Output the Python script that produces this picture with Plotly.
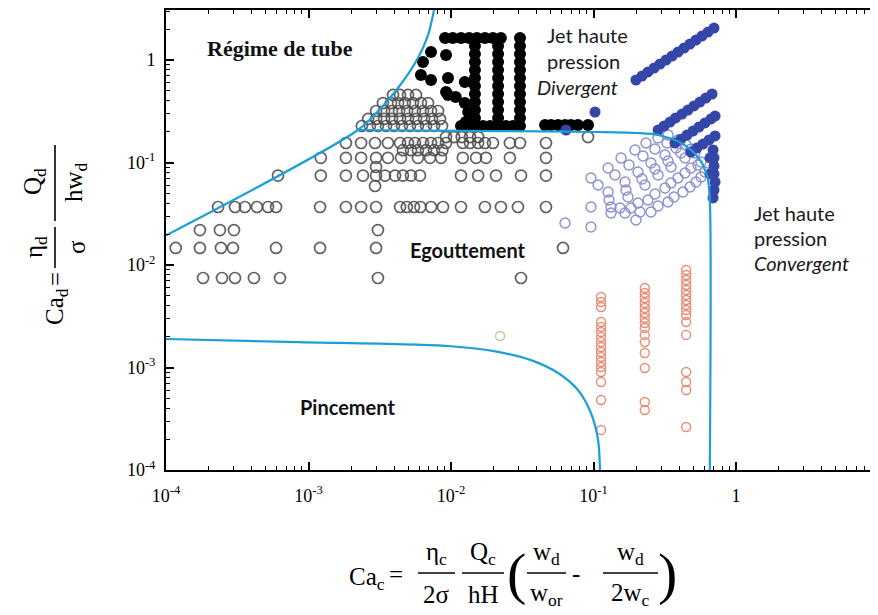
import plotly.graph_objects as go

# ---------------- data ----------------
# dark grey open circles (Egouttement region)
grey_rows_y = [0.155, 0.132, 0.111, 0.0745, 0.0368, 0.0219, 0.01466, 0.00747,
               0.456, 0.380, 0.318, 0.266, 0.227, 0.177]
grey_rows_x = [
    [1.83e-3, 2.34e-3, 2.93e-3, 3.61e-3, 4.39e-3, 4.99e-3, 5.58e-3, 6.36e-3, 7.24e-3, 8.11e-3,
     9.23e-3, 1.21e-2, 1.36e-2, 1.55e-2, 1.73e-2, 1.97e-2, 2.59e-2, 3.05e-2, 4.64e-2],
    [4.6e-3, 5.24e-3, 5.86e-3, 6.68e-3, 7.6e-3, 8.7e-3],
    [1.22e-3, 1.83e-3, 2.34e-3, 2.98e-3, 3.61e-3, 4.46e-3, 5.86e-3, 7.13e-3, 8.51e-3, 1.21e-2,
     1.5e-2, 1.76e-2, 2.59e-2, 4.64e-2],
    [6.11e-4, 1.22e-3, 1.83e-3, 2.41e-3, 2.98e-3, 3.44e-3, 4.05e-3, 4.6e-3, 5.24e-3, 6.06e-3,
     1.175e-2, 1.55e-2, 2.07e-2, 3.1e-2, 4.64e-2],
    [2.32e-4, 3.05e-4, 3.58e-4, 4.35e-4, 5.2e-4, 5.92e-4, 1.205e-3, 1.83e-3, 2.34e-3, 2.98e-3,
     4.39e-3, 4.9e-3, 5.5e-3, 6.1e-3, 7.24e-3, 8.79e-3, 1.175e-2, 1.73e-2, 2.24e-2, 2.95e-2, 4.64e-2],
    [1.73e-4, 2.39e-4, 3.0e-4, 3.07e-3],
    [1.17e-4, 1.73e-4, 2.43e-4, 2.95e-4, 5.92e-4, 1.205e-3, 2.98e-3, 6.11e-2],
    [1.82e-4, 2.47e-4, 3.05e-4, 4.14e-4, 6.31e-4, 3.07e-3, 3.1e-2],
    [3.92e-3, 4.39e-3, 4.99e-3, 5.68e-3],
    [3.33e-3, 3.79e-3, 4.25e-3, 4.75e-3, 5.41e-3, 6.15e-3, 6.9e-3],
    [2.98e-3, 3.39e-3, 3.85e-3, 4.32e-3, 4.92e-3, 5.58e-3, 6.36e-3, 7.24e-3, 8.11e-3],
    [2.62e-3, 2.98e-3, 3.39e-3, 3.85e-3, 4.39e-3, 4.99e-3, 5.68e-3, 6.47e-3, 7.36e-3, 8.37e-3],
    [2.37e-3, 2.7e-3, 3.07e-3, 3.5e-3, 3.98e-3, 4.53e-3, 5.15e-3, 5.86e-3, 6.68e-3, 7.6e-3, 8.65e-3],
    [9.23e-3, 1.05e-2, 1.19e-2, 1.36e-2, 1.55e-2, 9.15e-2],
]
grey_extra_x = [2.98e-3, 2.93e-3]
grey_extra_y = [0.0904, 0.059]

# black filled circles
black_col_x = [0.01472, 0.0214, 0.0305]
black_col_y = [1.369, 1.144, 0.956, 0.799, 0.667, 0.557, 0.466, 0.389, 0.325, 0.272, 0.227]
black_top_x = [9.08e-3, 1.03e-2, 1.175e-2, 1.34e-2, 1.52e-2, 1.73e-2, 1.97e-2, 2.24e-2, 0.0305]
black_top_y = 1.639
black_bottom_x = [1.175e-2, 1.32e-2, 1.68e-2, 1.88e-2, 2.43e-2, 2.72e-2]
black_bottom_y = 0.227
black_shape_x = [7.24e-3, 6.36e-3, 9.23e-3, 6.15e-3, 7.24e-3, 9.53e-3, 1.25e-2, 9.23e-3, 9.53e-3,
                 1.08e-2, 1.25e-2, 1.32e-2, 1.27e-2]
black_shape_y = [1.197, 0.956, 1.119, 0.714, 0.638, 0.667, 0.610, 0.487, 0.456, 0.436, 0.380,
                 0.311, 0.248]
black_right_x = [0.0457, 0.0504, 0.0564, 0.0631, 0.0695, 0.0778, 0.0915]
black_right_y = 0.232

# blue filled circles (divergent jet)
blue_x = [0.0641, 0.1025,
          0.1986, 0.219, 0.241, 0.266, 0.293, 0.323, 0.356, 0.392, 0.432, 0.475, 0.524, 0.577, 0.636, 0.701,
          0.284, 0.313, 0.344, 0.377, 0.418, 0.460, 0.507, 0.558, 0.615, 0.679,
          0.373, 0.411, 0.453, 0.499, 0.550, 0.606, 0.668, 0.713,
          0.483, 0.532, 0.586, 0.647, 0.713,
          0.690, 0.701, 0.701, 0.701, 0.713, 0.701, 0.690, 0.657, 0.657]
blue_y = [0.2075, 0.311,
          0.638, 0.698, 0.764, 0.835, 0.914, 1.0, 1.094, 1.197, 1.309, 1.432, 1.567, 1.714, 1.875, 2.051,
          0.2075, 0.227, 0.248, 0.272, 0.297, 0.325, 0.356, 0.389, 0.426, 0.466,
          0.155, 0.169, 0.1855, 0.2027, 0.222, 0.243, 0.266, 0.284,
          0.1265, 0.1384, 0.1514, 0.166, 0.1815,
          0.1324, 0.111, 0.0925, 0.0773, 0.0645, 0.0539, 0.0451, 0.111, 0.0773]

# light blue open circles (convergent jet)
lblue_x = [0.0960, 0.1265, 0.156, 0.1955, 0.2335, 0.2835, 0.3334,
           0.1077, 0.1416, 0.1774, 0.2225, 0.2700, 0.3279, 0.3917,
           0.1265, 0.1664, 0.2051, 0.2532, 0.3175, 0.3793, 0.4457,
           0.1285, 0.1690, 0.2189, 0.2700, 0.3334, 0.4110, 0.4833,
           0.1327, 0.1746, 0.2298, 0.2835, 0.3499, 0.4386, 0.5156,
           0.1535, 0.2051, 0.2700, 0.3499, 0.4386, 0.5411,
           0.1832, 0.2412, 0.3175, 0.3917, 0.4833, 0.5680,
           0.2120, 0.2835, 0.3672, 0.4755, 0.5680,
           0.2532, 0.3334, 0.4247, 0.5240, 0.6059,
           0.1986, 0.1664, 0.0631, 0.0960, 0.0960, 0.1327]
lblue_y = [0.0706, 0.0884, 0.1106, 0.1324, 0.155, 0.1734, 0.1855,
           0.0603, 0.0755, 0.0945, 0.1157, 0.1354, 0.155, 0.1658,
           0.0516, 0.0645, 0.0808, 0.0989, 0.1184, 0.1384, 0.1482,
           0.0431, 0.0539, 0.0690, 0.0864, 0.1034, 0.1238, 0.1354,
           0.0368, 0.0461, 0.0603, 0.0755, 0.0904, 0.1106, 0.1238,
           0.0360, 0.0403, 0.0493, 0.0631, 0.0790, 0.0945,
           0.0360, 0.0431, 0.0564, 0.0706, 0.0884, 0.1011,
           0.0329, 0.0376, 0.0461, 0.0577, 0.0722,
           0.0329, 0.0412, 0.0516, 0.0645, 0.0808,
           0.0275, 0.0322, 0.0257, 0.0368, 0.0235, 0.0322]

# red open circles (three columns)
red_col_x = [0.113, 0.229, 0.447]
red_col_y = [
    [4.87e-3, 4.36e-3, 3.89e-3, 2.78e-3, 2.48e-3, 2.22e-3, 1.98e-3, 1.77e-3, 1.585e-3, 1.417e-3,
     1.266e-3, 1.132e-3, 1.011e-3, 9.04e-4, 7.22e-4, 4.82e-4, 2.46e-4],
    [5.97e-3, 5.33e-3, 4.76e-3, 4.26e-3, 3.81e-3, 3.40e-3, 3.04e-3, 2.72e-3, 2.43e-3, 2.08e-3,
     1.77e-3, 1.385e-3, 9.89e-4, 4.61e-4, 3.85e-4],
    [8.94e-3, 7.99e-3, 7.14e-3, 6.38e-3, 5.70e-3, 5.10e-3, 4.56e-3, 4.07e-3, 3.64e-3, 3.25e-3,
     2.78e-3, 2.08e-3, 9.04e-4, 7.22e-4, 6.03e-4, 2.63e-4],
]

green_x = [0.0221]
green_y = [2.03e-3]

# regime boundaries
tube_x = [9.5e-5, 2.22e-3, 3.23e-3, 4.46e-3, 5.86e-3, 6.9e-3, 7.6e-3]
tube_y = [0.01875, 0.2075, 0.340, 0.583, 1.047, 1.75, 3.07]
drip_x = [2.22e-3, 0.0214, 0.1077, 0.205, 0.284, 0.411, 0.541, 0.630, 0.655, 0.655]
drip_y = [0.2075, 0.2027, 0.1985, 0.194, 0.1855, 0.155, 0.113, 0.0723, 0.0431, 1e-4]
pinch_x = [9.5e-5, 8.43e-4, 9.53e-3, 0.0214, 0.0364, 0.0564, 0.0778, 0.0959, 0.1077, 0.111]
pinch_y = [1.90e-3, 1.77e-3, 1.62e-3, 1.42e-3, 1.18e-3, 8.84e-4, 6.03e-4, 3.6e-4, 1.96e-4, 1e-4]

tick_vals = [1e-4, 1e-3, 1e-2, 1e-1, 1]
tick_text = ["10<sup>-4</sup>", "10<sup>-3</sup>", "10<sup>-2</sup>", "10<sup>-1</sup>", "1"]

# ---------------- figure ----------------
W, H = 878, 615
OFF = 8                       # page body margin of the browser
X0, Y0, YB = 166, 10, 470     # wanted screen position of the plot area
L, T = X0 - OFF, Y0 - OFF
B = H - (YB - OFF)
R = 0
PW, PH = W - L - R, H - T - B


def fx(p):
    return (p - X0) / PW


def fy(p):
    return (YB - p) / PH


fig = go.Figure()

gx, gy = [], []
for yy, xs in zip(grey_rows_y, grey_rows_x):
    gx += xs
    gy += [yy] * len(xs)
gx += grey_extra_x
gy += grey_extra_y
fig.add_trace(go.Scatter(x=gx, y=gy, mode="markers",
                         marker=dict(symbol="circle-open", size=11, color="rgba(80,80,80,0.9)",
                                     line=dict(width=1.7))))

bx, by = [], []
for xx in black_col_x:
    bx += [xx] * len(black_col_y)
    by += black_col_y
bx += black_top_x
by += [black_top_y] * len(black_top_x)
bx += black_bottom_x
by += [black_bottom_y] * len(black_bottom_x)
bx += black_shape_x
by += black_shape_y
bx += black_right_x
by += [black_right_y] * len(black_right_x)
fig.add_trace(go.Scatter(x=bx, y=by, mode="markers",
                         marker=dict(symbol="circle", size=12, color="black")))

fig.add_trace(go.Scatter(x=lblue_x, y=lblue_y, mode="markers",
                         marker=dict(symbol="circle-open", size=10, color="#8d90cf",
                                     line=dict(width=1.4))))
fig.add_trace(go.Scatter(x=blue_x, y=blue_y, mode="markers",
                         marker=dict(symbol="circle", size=11, color="#3447a8")))

rx, ry = [], []
for xx, ys in zip(red_col_x, red_col_y):
    rx += [xx] * len(ys)
    ry += ys
fig.add_trace(go.Scatter(x=rx, y=ry, mode="markers",
                         marker=dict(symbol="circle-open", size=9, color="#ea8a72",
                                     line=dict(width=1.4))))
fig.add_trace(go.Scatter(x=green_x, y=green_y, mode="markers",
                         marker=dict(symbol="circle-open", size=9, color="#a9d48f",
                                     line=dict(width=1.4))))

line_style = dict(color="#1d9fd6", width=2.2, shape="spline", smoothing=0.8)
for cx, cy in [(tube_x, tube_y), (drip_x, drip_y), (pinch_x, pinch_y)]:
    fig.add_trace(go.Scatter(x=cx, y=cy, mode="lines", line=line_style))

axis_common = dict(type="log", showline=True, linecolor="black", linewidth=2,
                   ticks="inside", ticklen=8, tickwidth=1.5, tickcolor="black",
                   tickmode="array", tickvals=tick_vals, ticktext=tick_text,
                   showgrid=False, zeroline=False,
                   minor=dict(ticks="inside", ticklen=4, tickwidth=1, tickcolor="black",
                              dtick="D1", showgrid=False),
                   tickfont=dict(family="Liberation Serif", size=18, color="black"))

fig.update_xaxes(range=[-4, -4 + PW / 142.5], mirror="ticks", ticklabelstandoff=8,
                 **axis_common)
fig.update_yaxes(range=[-4, -4 + PH / 102.5], mirror=False, ticklabelstandoff=5,
                 **axis_common)

ann = []
shapes = []


def add_text(text, x, y, size, family="Liberation Serif", color="black", xanchor="center",
             angle=0):
    ann.append(dict(text=text, x=fx(x), y=fy(y), xref="paper", yref="paper",
                    showarrow=False, xanchor=xanchor, yanchor="middle", textangle=angle,
                    font=dict(family=family, size=size, color=color)))


def add_bar(x0, y0, x1, y1):
    shapes.append(dict(type="line", xref="paper", yref="paper",
                       x0=fx(x0), y0=fy(y0), x1=fx(x1), y1=fy(y1),
                       line=dict(color="black", width=1.6)))


# region labels
add_text("<b>Régime de tube</b>", 280, 49, 22, color="#111")
lab = dict(family="Lato", color="#1a1a1a", xanchor="left")
add_text("Jet haute", 545, 35, 20, **lab)
add_text("pression", 545, 61, 20, **lab)
add_text("<i>Divergent</i>", 535, 87, 20, **lab)
add_text("Jet haute", 752, 213, 20, **lab)
add_text("pression", 752, 238, 20, **lab)
add_text("<i>Convergent</i>", 752, 263, 20, **lab)
add_text("<b>Egouttement</b>", 468, 250, 20, family="Lato", color="#111")
add_text("<b>Pincement</b>", 347, 407, 20, family="Lato", color="#111")

# x-axis title: Ca_c = eta_c/(2 sigma) Q_c/(hH) (w_d/w_or - w_d/(2 w_c))
fs = 25
add_text("Ca<sub>c</sub>", 347, 578, fs, xanchor="left")
add_text("=", 396, 574, fs)
add_text("η<sub>c</sub>", 436, 553, fs)
add_bar(418, 573, 455, 573)
add_text("2σ", 436, 594, fs)
add_text("Q<sub>c</sub>", 483, 553, fs)
add_bar(462, 573, 504, 573)
add_text("hH", 483, 594, fs)
add_text("(", 516, 573, 58)
add_text("w<sub>d</sub>", 546, 553, fs)
add_bar(527, 573, 566, 573)
add_text("w<sub>or</sub>", 546, 594, fs)
add_text("-", 576, 573, fs)
add_text("w<sub>d</sub>", 630, 553, fs)
add_bar(603, 573, 658, 573)
add_text("2w<sub>c</sub>", 630, 594, fs)
add_text(")", 667, 573, 58)

# y-axis title (rotated): Ca_d = eta_d/sigma Q_d/(h w_d)
add_text("Ca<sub>d</sub>", 56, 306, fs, angle=-90)
add_text("=", 55, 279, fs, angle=-90)
add_text("η<sub>d</sub>", 35, 247, fs, angle=-90)
add_bar(55, 227, 55, 268)
add_text("σ", 76, 247, fs, angle=-90)
add_text("Q<sub>d</sub>", 35, 182, fs, angle=-90)
add_bar(55, 145, 55, 221)
add_text("hw<sub>d</sub>", 76, 182, fs, angle=-90)

fig.update_layout(width=W, height=H, margin=dict(l=L, r=R, t=T, b=B),
                  plot_bgcolor="white", paper_bgcolor="white", showlegend=False,
                  annotations=ann, shapes=shapes)

fig.write_html("out.html")
